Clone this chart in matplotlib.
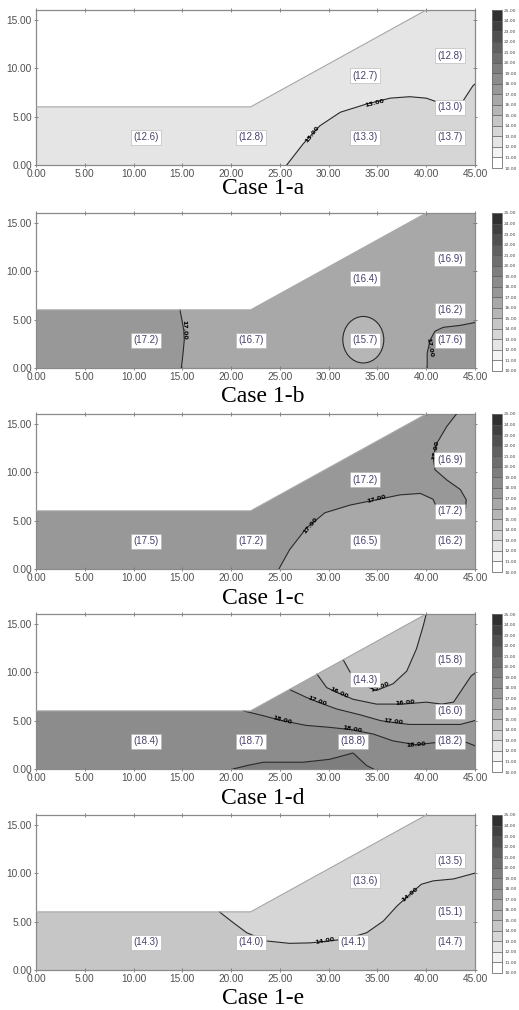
import matplotlib
matplotlib.use("Agg")
import matplotlib.pyplot as plt
from matplotlib.patches import Polygon, Ellipse
from matplotlib.colors import ListedColormap, BoundaryNorm
from matplotlib.cm import ScalarMappable

# embankment cross-section (m)
DOMAIN_X = [0, 45, 45, 40, 22, 0]
DOMAIN_Y = [0, 0, 16, 16, 6, 6]

# contour levels and the grey ramp used for the bands
LEVELS = list(range(10, 26))
GRAYS = ["#ffffff", "#f3f3f3", "#e5e5e5", "#d6d6d6", "#c6c6c6", "#b6b6b6",
         "#a8a8a8", "#989898", "#8c8c8c", "#7e7e7e", "#6e6e6e", "#606060",
         "#505050", "#404040", "#303030"]

CASES = ["Case 1-a", "Case 1-b", "Case 1-c", "Case 1-d", "Case 1-e"]

# monitoring points and the values printed there
POINT_Y = [2.85, 2.85, 2.85, 2.85, 5.95, 9.2, 11.3]
POINT_X_A = [11.3, 22.0, 33.7, 42.4, 42.4, 33.7, 42.4]
POINT_X_B = [11.3, 22.0, 33.7, 42.4, 42.4, 33.7, 42.4]
POINT_X_C = [11.3, 22.0, 33.7, 42.4, 42.4, 33.7, 42.4]
POINT_X_D = [11.3, 22.0, 32.5, 42.4, 42.4, 33.7, 42.4]
POINT_X_E = [11.3, 22.0, 32.5, 42.4, 42.4, 33.7, 42.4]
VALUES_A = [12.6, 12.8, 13.3, 13.7, 13.0, 12.7, 12.8]
VALUES_B = [17.2, 16.7, 15.7, 17.6, 16.2, 16.4, 16.9]
VALUES_C = [17.5, 17.2, 16.5, 16.2, 17.2, 17.2, 16.9]
VALUES_D = [18.4, 18.7, 18.8, 18.2, 16.0, 14.3, 15.8]
VALUES_E = [14.3, 14.0, 14.1, 14.7, 15.1, 13.6, 13.5]

# background band of each case (lower bound of the level interval)
BASE_LEVEL = [12, 16, 17, 18, 14]

# --- case a
A_LINE_13 = [(25.7, 0), (27.4, 2.2), (29.1, 4.05), (31.2, 5.45), (33.9, 6.3),
             (36.3, 6.9), (38.3, 7.05), (40.0, 6.9), (41.0, 6.55), (42.3, 6.1),
             (43.7, 6.5), (44.8, 8.2), (45, 8.35)]
A_REGIONS = [(13, A_LINE_13 + [(45, 0)])]
A_LINES = [A_LINE_13]
A_CLABELS = [("13.00", 34.7, 6.35, 14), ("13.00", 28.3, 3.15, 52)]
A_CIRCLES = []

# --- case b
B_LINE_17L = [(14.76, 6.0), (14.95, 5.0), (15.15, 3.9), (15.2, 2.9),
              (15.1, 1.8), (15.0, 0.86), (14.9, 0)]
B_LINE_17R = [(40.1, 0), (40.1, 1.55), (40.4, 2.9), (40.9, 3.8), (41.75, 4.2),
              (43.5, 4.4), (45, 4.7)]
B_REGIONS = [(17, B_LINE_17L + [(0, 0), (0, 6)]),
             (17, B_LINE_17R + [(45, 0)])]
B_LINES = [B_LINE_17L, B_LINE_17R]
B_CLABELS = [("17.00", 15.15, 3.9, -88), ("17.00", 40.35, 2.1, -80)]
# closed 16.00 contour: centre x, centre y, width, height
B_CIRCLES = [(15, 33.55, 2.92, 4.2, 4.8)]

# --- case c
C_LINE_17 = [(24.9, 0), (26.0, 2.0), (27.7, 4.2), (29.6, 5.8), (32.2, 6.6),
             (34.9, 7.15), (37.3, 7.65), (39.4, 7.8), (40.7, 7.2), (41.1, 6.3),
             (42.0, 5.6), (43.3, 5.5), (44.0, 5.9), (44.1, 7.15), (43.5, 8.2),
             (42.1, 9.2), (40.9, 10.25), (40.7, 11.6), (41.1, 13.0),
             (42.1, 14.7), (43.1, 16.0)]
C_REGIONS = [(16, C_LINE_17 + [(45, 16), (45, 0)])]
C_LINES = [C_LINE_17]
C_CLABELS = [("17.00", 34.9, 7.2, 15), ("17.00", 28.1, 4.5, 50),
             ("17.00", 41.0, 12.3, 80)]
C_CIRCLES = []

# --- case d
D_LINE_15 = [(31.5, 11.25), (32.2, 10.0), (33.2, 8.8), (34.9, 8.1), (36.6, 8.8),
             (38.0, 10.1), (39.0, 12.4), (39.7, 14.8), (40.0, 16.0)]
D_LINE_16 = [(28.8, 9.8), (29.8, 8.4), (31.1, 7.8), (32.5, 7.2), (34.9, 6.7),
             (37.6, 6.7), (40.0, 6.9), (41.6, 6.7), (42.8, 6.9), (43.8, 8.4),
             (44.6, 9.6), (45, 9.9)]
D_LINE_17 = [(26.0, 8.2), (27.7, 7.4), (28.8, 6.95), (30.8, 6.2), (33.2, 5.6),
             (35.3, 5.0), (36.6, 4.8), (38.3, 4.6), (41.1, 4.6), (43.5, 4.6),
             (45, 5.0)]
D_LINE_18 = [(21.25, 6.0), (23.3, 5.5), (25.2, 5.0), (27.7, 4.5), (30.1, 4.3),
             (32.4, 4.05), (34.6, 3.6), (36.6, 2.9), (39.0, 2.5), (40.7, 2.7),
             (42.5, 2.85), (44.1, 2.75), (45, 2.4)]
D_LINE_19 = [(20.2, 0), (21.6, 0.35), (23.3, 0.7), (27.4, 0.7), (30.1, 1.0),
             (32.5, 1.65), (33.9, 0.35), (34.6, 0)]
D_REGIONS = [(17, D_LINE_18 + [(45, 16), (21.25, 16)]),
             (16, D_LINE_17 + [(45, 16), (26.0, 16)]),
             (15, D_LINE_16 + [(45, 16), (28.8, 16)]),
             (14, D_LINE_15 + [(31.5, 16)]),
             (19, D_LINE_19)]
D_LINES = [D_LINE_15, D_LINE_16, D_LINE_17, D_LINE_18, D_LINE_19]
D_CLABELS = [("15.00", 35.3, 8.45, 22), ("16.00", 31.1, 7.9, -25),
             ("16.00", 37.8, 6.8, 5), ("17.00", 28.8, 7.0, -20),
             ("17.00", 36.6, 4.85, -6), ("18.00", 25.2, 5.0, -15),
             ("18.00", 32.4, 4.1, -10), ("18.00", 39.0, 2.55, 5)]
D_CIRCLES = []

# --- case e
E_LINE_14 = [(18.8, 6.0), (20.2, 4.9), (21.6, 3.85), (23.6, 3.0), (26.0, 2.75),
             (28.1, 2.8), (29.6, 2.95), (31.8, 3.2), (33.9, 3.85), (35.6, 5.05),
             (37.0, 6.6), (38.3, 7.8), (39.5, 8.85), (40.7, 9.2), (42.8, 9.4),
             (45, 10.0)]
E_REGIONS = [(13, E_LINE_14 + [(45, 16), (18.8, 16)])]
E_LINES = [E_LINE_14]
E_CLABELS = [("14.00", 29.6, 3.0, 10), ("14.00", 38.3, 7.8, 40)]
E_CIRCLES = []

POINT_X = [POINT_X_A, POINT_X_B, POINT_X_C, POINT_X_D, POINT_X_E]
VALUES = [VALUES_A, VALUES_B, VALUES_C, VALUES_D, VALUES_E]
REGIONS = [A_REGIONS, B_REGIONS, C_REGIONS, D_REGIONS, E_REGIONS]
LINES = [A_LINES, B_LINES, C_LINES, D_LINES, E_LINES]
CLABELS = [A_CLABELS, B_CLABELS, C_CLABELS, D_CLABELS, E_CLABELS]
CIRCLES = [A_CIRCLES, B_CIRCLES, C_CIRCLES, D_CIRCLES, E_CIRCLES]

W, H = 519, 1010
AX_TOP = [10, 213, 414, 614, 815]
AX_H = 155
CAPTION_Y = [189, 397, 598, 798, 998]

cmap = ListedColormap(GRAYS)
norm = BoundaryNorm(LEVELS, cmap.N)
LINE_COLOR = "#2a2a2a"


def band(level):
    return cmap(norm(level + 0.5))


fig = plt.figure(figsize=(W / 100, H / 100), dpi=100)

for i, case in enumerate(CASES):
    top = AX_TOP[i]
    ax = fig.add_axes([36 / W, 1 - (top + AX_H) / H, 439 / W, AX_H / H])
    ax.set_xlim(0, 45)
    ax.set_ylim(0, 16)

    domain = Polygon(list(zip(DOMAIN_X, DOMAIN_Y)), closed=True,
                     facecolor=band(BASE_LEVEL[i]), edgecolor="none", zorder=1)
    ax.add_patch(domain)

    for level, pts in REGIONS[i]:
        p = Polygon(pts, closed=True, facecolor=band(level), edgecolor="none", zorder=2)
        ax.add_patch(p)
        p.set_clip_path(domain)

    for level, cx, cy, w, h in CIRCLES[i]:
        e = Ellipse((cx, cy), w, h, facecolor=band(level), edgecolor=LINE_COLOR,
                    lw=0.8, zorder=3)
        ax.add_patch(e)

    for pts in LINES[i]:
        xs, ys = zip(*pts)
        ax.plot(xs, ys, color=LINE_COLOR, lw=0.8, zorder=3)

    # upper boundary of the section
    ax.plot(DOMAIN_X[3:], DOMAIN_Y[3:], color="#a8a8a8", lw=0.8, zorder=4)

    for txt, x, y, rot in CLABELS[i]:
        ax.text(x, y, txt, fontsize=4.6, fontweight="bold", color="black",
                rotation=rot, ha="center", va="center", rotation_mode="anchor",
                family="DejaVu Sans", zorder=5)

    for x, y, v in zip(POINT_X[i], POINT_Y, VALUES[i]):
        ax.text(x, y, f"({v:.1f})", fontsize=7, color="#4a3f6b",
                family="Liberation Sans", ha="center", va="center", zorder=6,
                bbox=dict(boxstyle="square,pad=0.25", facecolor="white",
                          edgecolor="#b0b0b0", lw=0.4))

    ax.set_xticks(range(0, 46, 5))
    ax.set_yticks([0, 5, 10, 15])
    ax.set_xticklabels([f"{t:.2f}" for t in range(0, 46, 5)])
    ax.set_yticklabels([f"{t:.2f}" for t in [0, 5, 10, 15]])
    ax.tick_params(direction="inout", length=3, width=0.6, color="#707070",
                   labelsize=7.3, labelcolor="#505050", pad=1.5,
                   top=True, right=True)
    for lab in ax.get_xticklabels() + ax.get_yticklabels():
        lab.set_family("Liberation Sans")
    for s in ax.spines.values():
        s.set_color("#8a8a8a")
        s.set_linewidth(0.9)

    cax = fig.add_axes([492 / W, 1 - (top + 158) / H, 10 / W, 158 / H])
    sm = ScalarMappable(norm=norm, cmap=cmap)
    cb = fig.colorbar(sm, cax=cax, drawedges=True, ticks=LEVELS)
    cb.ax.set_yticklabels([f"{v:.2f}" for v in LEVELS])
    cb.ax.tick_params(labelsize=3.2, length=0, pad=1.5, labelcolor="#444444")
    cb.outline.set_edgecolor("#707070")
    cb.outline.set_linewidth(0.6)
    cb.dividers.set_color("#555555")
    cb.dividers.set_linewidth(0.5)

    fig.text(263 / W, 1 - CAPTION_Y[i] / H, case, fontsize=17,
             family="Liberation Serif", ha="center", va="center")

fig.savefig("out.png", dpi=100)
